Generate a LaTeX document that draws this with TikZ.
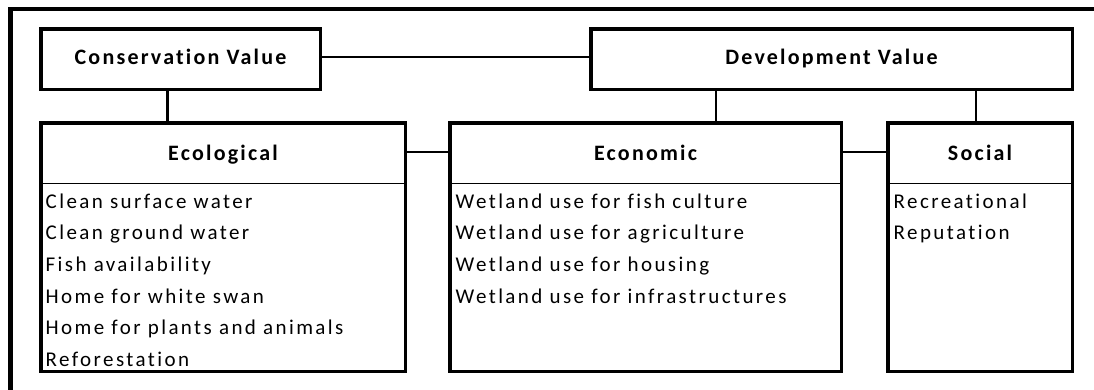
\documentclass[tikz,border=0pt]{standalone}
\usepackage{fontspec}
\setmainfont{Carlito}
\newfontfamily\bodyfont{Carlito}[LetterSpace=11.5,Ligatures=NoCommon]
\newfontfamily\headfont{Carlito}[LetterSpace=10,Ligatures=NoCommon]
\begin{document}
\begin{tikzpicture}[x=1pt,y=-1pt,
  frame/.style={line width=4.5pt, line cap=rect},
  box/.style={draw, line width=3.5pt, inner sep=0pt, outer sep=0pt},
  conn/.style={line width=2.5pt},
  sep/.style={line width=1.5pt},
  head/.style={font=\headfont\bfseries\fontsize{22}{26}\selectfont, inner sep=0pt, anchor=base},
  items/.style={font=\bodyfont\fontsize{21}{31.6}\selectfont, align=left, inner sep=0pt, anchor=base west}]
\useasboundingbox (0,0) rectangle (1094,389);
% outer frame (left and top only)
\coordinate (fbl) at (10.5,395);
\coordinate (ftl) at (10.5,9);
\coordinate (ftr) at (1100,9);
\draw[frame] (fbl) -- (ftl) -- (ftr);
% top boxes
\node[box, minimum width=279.5pt, minimum height=60.5pt] (cons) at (180.5,59) {};
\node[box, minimum width=481.5pt, minimum height=60.5pt] (dev) at (831.5,59) {};
\node[head] (consl) at (180.5,64) {Conservation Value};
\node[head] (devl) at (831.5,64) {Development Value};
% category boxes
\node[box, minimum width=364.5pt, minimum height=248.5pt] (ecol) at (223,247) {};
\node[box, minimum width=391.5pt, minimum height=248.5pt] (econ) at (645.5,247) {};
\node[box, minimum width=184.5pt, minimum height=248.5pt] (soc) at (980,247) {};
% header separators
\coordinate (sy) at (0,183.5);
\draw[sep] (ecol.west |- sy) -- (ecol.east |- sy);
\draw[sep] (econ.west |- sy) -- (econ.east |- sy);
\draw[sep] (soc.west |- sy) -- (soc.east |- sy);
% headers
\node[head] (ecolh) at (223,160) {Ecological};
\node[head] (econh) at (645.5,160) {Economic};
\node[head] (soch) at (980,160) {Social};
% lists (base anchor = baseline of the last line)
\node[items] (ecoll) at (45.5,366.3) {Clean surface water\\Clean ground water\\Fish availability\\Home for white swan\\Home for plants and animals\\Reforestation};
\node[items] (econl) at (455.5,303.1) {Wetland use for fish culture\\Wetland use for agriculture\\Wetland use for housing\\Wetland use for infrastructures};
\node[items] (socl) at (893.5,239.9) {Recreational\\Reputation};
% connectors
\coordinate (cy) at (0,57);
\coordinate (hy) at (0,152);
\draw[conn] (cons.east |- cy) -- (dev.west |- cy);
\draw[conn] ([xshift=-13pt]cons.south) -- ([xshift=-13pt]cons.south |- ecol.north);
\draw[conn] ([xshift=-115.5pt]dev.south) -- ([xshift=-115.5pt]dev.south |- econ.north);
\draw[conn] ([xshift=144.5pt]dev.south) -- ([xshift=144.5pt]dev.south |- soc.north);
\draw[conn] (ecol.east |- hy) -- (econ.west |- hy);
\draw[conn] (econ.east |- hy) -- (soc.west |- hy);
\end{tikzpicture}
\end{document}
